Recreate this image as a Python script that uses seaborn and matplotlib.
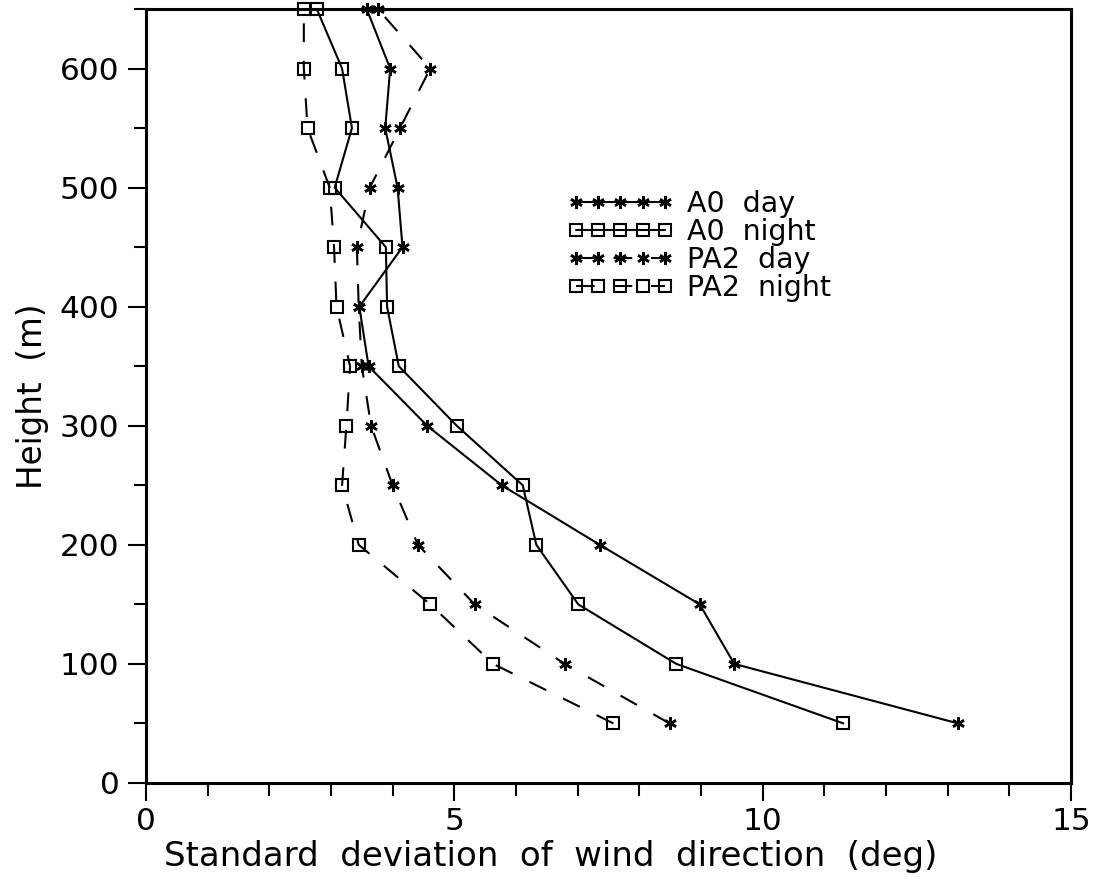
import matplotlib
matplotlib.use("Agg")
import matplotlib.pyplot as plt
from matplotlib.ticker import MultipleLocator
import seaborn as sns
import pandas as pd

# Heights of the sounding levels (m)
heights = [50, 100, 150, 200, 250, 300, 350, 400, 450, 500, 550, 600, 650]

# Standard deviation of wind direction (deg) at each level
a0_day = [13.17, 9.54, 8.98, 7.36, 5.77, 4.56, 3.61, 3.46, 4.16, 4.08, 3.88, 3.96, 3.58]
a0_night = [11.31, 8.60, 7.01, 6.33, 6.11, 5.04, 4.10, 3.91, 3.89, 3.06, 3.34, 3.18, 2.77]
pa2_day = [8.49, 6.79, 5.33, 4.41, 4.00, 3.65, 3.50, 3.45, 3.42, 3.63, 4.12, 4.61, 3.76]
pa2_night = [7.58, 5.63, 4.61, 3.45, 3.18, 3.25, 3.31, 3.09, 3.05, 2.98, 2.62, 2.56, 2.56]

series_labels = ["A0  day", "A0  night", "PA2  day", "PA2  night"]

sns.set_style("white")
plt.rcParams["font.family"] = ["DejaVu Sans"]
plt.rcParams["text.color"] = "black"
plt.rcParams["axes.labelcolor"] = "black"
plt.rcParams["xtick.color"] = "black"
plt.rcParams["ytick.color"] = "black"

fig = plt.figure(figsize=(11, 8.83), dpi=100)
ax = fig.add_axes([0.1327, 0.1133, 0.8409, 0.8765])

star = (6, 2, 0)
dashed = (0, (9, 9))
styles = [
    (a0_day, star, "-"),
    (a0_night, "s", "-"),
    (pa2_day, star, dashed),
    (pa2_night, "s", dashed),
]

for (vals, mk, ls), lab in zip(styles, series_labels):
    df = pd.DataFrame({"sigma": vals, "height": heights})
    is_sq = mk == "s"
    sns.lineplot(
        data=df, x="sigma", y="height", orient="y", sort=False, estimator=None,
        ax=ax, color="black", linewidth=1.5, linestyle=ls, marker=mk,
        markersize=8.5 if is_sq else 9,
        markerfacecolor="none" if is_sq else "black",
        markeredgecolor="black", markeredgewidth=1.5 if is_sq else 1.8,
        label=lab, clip_on=False, zorder=3,
    )

ax.set_xlim(0, 15)
ax.set_ylim(0, 650)
ax.xaxis.set_major_locator(MultipleLocator(5))
ax.xaxis.set_minor_locator(MultipleLocator(1))
ax.yaxis.set_major_locator(MultipleLocator(100))
ax.yaxis.set_minor_locator(MultipleLocator(50))

ax.tick_params(axis="both", which="both", direction="out", colors="black",
               labelsize=22.5, bottom=True, left=True, top=False, right=False)
ax.tick_params(axis="both", which="major", length=13, width=1.5, pad=4)
ax.tick_params(axis="both", which="minor", length=9, width=1.5)
ax.tick_params(axis="y", which="major", pad=6)

for sp in ax.spines.values():
    sp.set_visible(True)
    sp.set_color("black")
    sp.set_linewidth(2.2)

ax.set_xlabel("Standard  deviation  of  wind  direction  (deg)", fontsize=24.5)
ax.xaxis.set_label_coords(0.438, -0.074)
ax.set_ylabel("Height  (m)", fontsize=23.5, labelpad=8)

leg = ax.legend(
    loc="upper left", bbox_to_anchor=(0.456, 0.766), frameon=False,
    fontsize=20.5, numpoints=5, handlelength=3.7, handletextpad=0.5,
    labelspacing=0.0, borderpad=0, borderaxespad=0,
)

fig.savefig("out.png", dpi=100, facecolor="white")
